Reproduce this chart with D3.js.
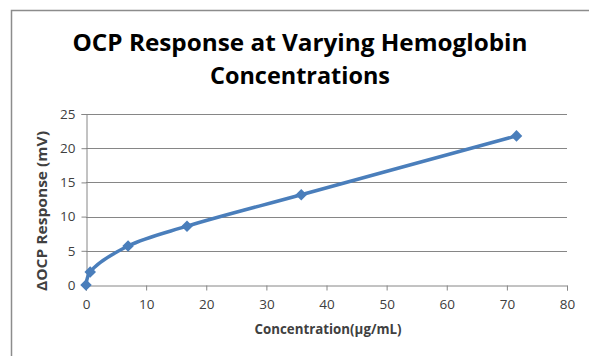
<!DOCTYPE html>
<html>
<head>
<meta charset="utf-8">
<script src="https://cdn.jsdelivr.net/npm/d3@7/dist/d3.min.js"></script>
<style>
  html, body { margin: 0; padding: 0; background: #fff; }
  svg { display: block; }
  text { font-family: "Open Sans", "Noto Sans", sans-serif; }
</style>
</head>
<body>
<svg id="chart" width="589" height="356"></svg>
<script>
// Hemoglobin concentration (µg/mL) and the measured ΔOCP response (mV)
const concentration = [0, 0.7, 7.0, 16.8, 35.8, 71.6];
const ocpResponse   = [0, 1.9, 5.7, 8.6, 13.2, 21.8];
const xTicks = [0, 10, 20, 30, 40, 50, 60, 70, 80];
const yTicks = [0, 5, 10, 15, 20, 25];

const titleLines = ["OCP Response at Varying Hemoglobin", "Concentrations"];
const xTitle = "Concentration(µg/mL)";
const yTitle = "ΔOCP Response (mV)";

const svg = d3.select("#chart");
const W = 589, H = 356;
const plot = { left: 86, right: 567, top: 114, bottom: 285 };

const x = d3.scaleLinear().domain([0, 80]).range([plot.left, plot.right]);
const y = d3.scaleLinear().domain([0, 25]).range([plot.bottom, plot.top]);

const axisGray = "#868686";
const textGray = "#404040";
const lineBlue = "#4A7EBB";

// chart-area frame
svg.append("path")
  .attr("d", `M11.5,${H} V10.5 H${W}`)
  .attr("fill", "none")
  .attr("stroke", "#8c8c8c")
  .attr("stroke-width", 1.5);

// title (narrow, tall lettering)
svg.append("text")
  .attr("x", 300).attr("y", 51)
  .attr("text-anchor", "middle")
  .attr("font-size", 24).attr("font-weight", "bold").attr("fill", "#000")
  .attr("textLength", 455).attr("lengthAdjust", "spacingAndGlyphs")
  .text(titleLines[0]);
svg.append("text")
  .attr("x", 300).attr("y", 84)
  .attr("text-anchor", "middle")
  .attr("font-size", 24).attr("font-weight", "bold").attr("fill", "#000")
  .attr("textLength", 180).attr("lengthAdjust", "spacingAndGlyphs")
  .text(titleLines[1]);

// horizontal gridlines
svg.append("g")
  .selectAll("line")
  .data(yTicks.filter(d => d > 0))
  .join("line")
  .attr("x1", plot.left).attr("x2", plot.right)
  .attr("y1", d => Math.round(y(d)) + 0.5).attr("y2", d => Math.round(y(d)) + 0.5)
  .attr("stroke", axisGray).attr("stroke-width", 1);

// y axis
const yAxis = svg.append("g")
  .attr("transform", `translate(${plot.left + 0.5},0)`)
  .call(d3.axisLeft(y).tickValues(yTicks).tickSize(5).tickPadding(6).tickFormat(d3.format("d")));
yAxis.select(".domain").attr("stroke", axisGray);
yAxis.selectAll(".tick line").attr("stroke", axisGray);
yAxis.selectAll(".tick text")
  .attr("font-size", 13.5).attr("fill", textGray)
  .attr("font-family", "'Open Sans', sans-serif");

// x axis
const xAxis = svg.append("g")
  .attr("transform", `translate(0,${plot.bottom + 0.5})`)
  .call(d3.axisBottom(x).tickValues(xTicks).tickSize(5).tickPadding(9).tickFormat(d3.format("d")));
xAxis.select(".domain").attr("stroke", axisGray);
xAxis.selectAll(".tick line").attr("stroke", axisGray);
xAxis.selectAll(".tick text")
  .attr("font-size", 13.5).attr("fill", textGray)
  .attr("font-family", "'Open Sans', sans-serif");

// axis titles
svg.append("text")
  .attr("x", 328).attr("y", 334)
  .attr("text-anchor", "middle")
  .attr("font-size", 13.5).attr("font-weight", "bold").attr("fill", textGray)
  .attr("textLength", 147).attr("lengthAdjust", "spacingAndGlyphs")
  .text(xTitle);
svg.append("text")
  .attr("transform", "translate(47,211) rotate(-90)")
  .attr("text-anchor", "middle")
  .attr("font-size", 13.5).attr("font-weight", "bold").attr("fill", textGray)
  .attr("textLength", 160).attr("lengthAdjust", "spacingAndGlyphs")
  .text(yTitle);

// smoothed response line
const pts = concentration.map((c, i) => [c, ocpResponse[i]]);
svg.append("path")
  .datum(pts)
  .attr("fill", "none")
  .attr("stroke", lineBlue)
  .attr("stroke-width", 3.5)
  .attr("stroke-linejoin", "round")
  .attr("d", d3.line().x(d => x(d[0])).y(d => y(d[1])).curve(d3.curveCatmullRom.alpha(0.5)));

// diamond markers
svg.append("g")
  .selectAll("path")
  .data(pts)
  .join("path")
  .attr("transform", d => `translate(${x(d[0])},${y(d[1])})`)
  .attr("d", d3.symbol(d3.symbolDiamond2, 85))
  .attr("fill", lineBlue);
</script>
</body>
</html>
